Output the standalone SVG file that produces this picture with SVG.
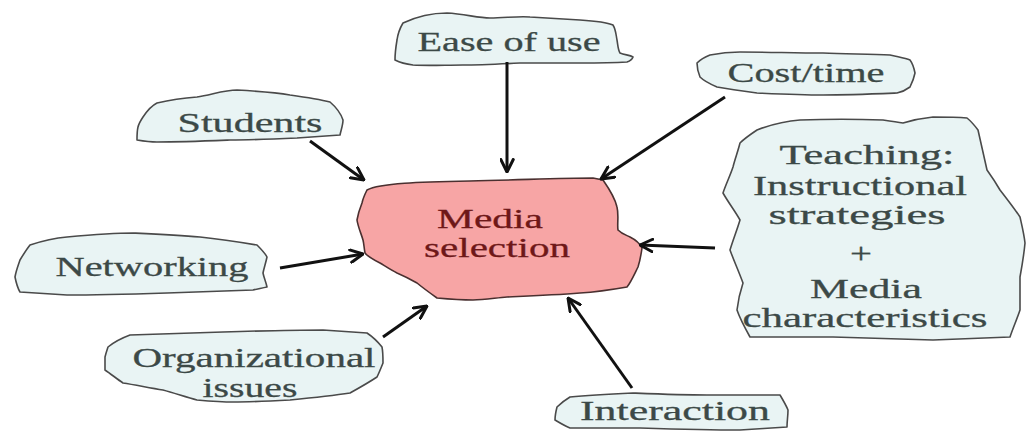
<svg xmlns="http://www.w3.org/2000/svg" width="1027" height="432" viewBox="0 0 1027 432">
  <style>
    .blob { fill: #e9f4f4; stroke: #4a4a4a; stroke-width: 1.6; stroke-linejoin: round; }
    .core { fill: #f7a5a5; stroke: #4a3030; stroke-width: 1.6; stroke-linejoin: round; }
    .lbl { font-family: "Liberation Serif", "Times New Roman", serif; font-size: 28px; fill: #3c4947; stroke: #3c4947; stroke-width: 0.3; text-anchor: middle; }
    .core-lbl { font-family: "Liberation Serif", "Times New Roman", serif; font-size: 28px; fill: #6e1818; stroke: #6e1818; stroke-width: 0.3; text-anchor: middle; }
    .link { stroke: #111; stroke-width: 3; fill: none; marker-end: url(#chev); }
  </style>
  <defs>
    <marker id="chev" viewBox="0 0 12 12" refX="11" refY="6" markerWidth="15" markerHeight="15" markerUnits="userSpaceOnUse" orient="auto">
      <path d="M1,1 L11,6 L1,11" fill="none" stroke="#111" stroke-width="2.4" stroke-linecap="round" stroke-linejoin="round"/>
    </marker>
  </defs>
  <rect width="1027" height="432" fill="#ffffff"/>

  <!-- central node -->
  <g id="media-selection">
    <path class="core" d="M367,190 C380,183 420,182 470,181 C520,180 560,178 593,178 L603,180 C610,190 615,198 617,207 C619,215 617,224 618,230 C622,234 626,235 630,237 C636,240 640,244 642,248 C641,255 640,261 638,267 C634,275 631,282 627,287 C610,290 596,292 580,293 C555,295 530,296 507,297 C495,298 484,300 473,300 C460,300 448,299 437,298 C430,293 423,288 417,283 C410,279 404,276 397,273 C391,270 385,266 380,263 C374,260 368,257 365,253 C364,248 364,244 363,240 C361,233 358,227 357,220 C358,214 360,208 362,203 C363,198 365,194 367,190 Z"/>
    <text class="core-lbl" x="490" y="228" textLength="106" lengthAdjust="spacingAndGlyphs">Media</text>
    <text class="core-lbl" x="497" y="257" textLength="146" lengthAdjust="spacingAndGlyphs">selection</text>
  </g>

  <g id="ease-of-use">
    <path class="blob" d="M403,23 C420,15 435,13 447,13 C465,14 478,18 490,18 C505,18 518,16 530,17 C548,18 565,19 580,20 C595,21 606,22 613,25 C616,30 616,35 617,40 C618,46 618,50 620,53 C625,55 630,55 633,57 C632,60 630,61 627,62 C610,63 595,63 580,63 C560,63 540,63 520,63 C500,64 480,65 463,65 C445,65 428,66 413,65 C405,64 399,62 395,60 C395,53 396,46 397,40 C398,33 400,28 403,23 Z"/>
    <text class="lbl" x="509" y="51" textLength="183" lengthAdjust="spacingAndGlyphs">Ease of use</text>
  </g>

  <g id="cost-time">
    <path class="blob" d="M697,63 C701,59 705,57 710,55 C720,53 730,52 740,52 C768,52 795,53 823,53 C846,54 870,54 890,55 C898,57 905,58 910,60 C913,64 914,68 915,73 C914,78 912,83 910,87 C906,90 902,92 897,93 C872,94 848,95 823,95 C801,95 779,94 757,93 C742,91 728,89 717,87 C710,84 704,81 700,77 C698,72 697,68 697,63 Z"/>
    <text class="lbl" x="806" y="82" textLength="157" lengthAdjust="spacingAndGlyphs">Cost/time</text>
  </g>

  <g id="students">
    <path class="blob" d="M143,117 C147,111 151,106 157,103 C170,100 184,98 197,97 C211,95 224,90 237,90 C255,91 273,92 290,95 C304,97 318,99 330,102 C337,108 341,114 343,120 C343,125 341,130 340,135 C326,136 312,137 297,138 C275,139 252,140 230,140 C205,141 181,142 157,142 C150,142 143,141 137,140 C137,135 137,131 138,127 C139,123 141,120 143,117 Z"/>
    <text class="lbl" x="250" y="132" textLength="145" lengthAdjust="spacingAndGlyphs">Students</text>
  </g>

  <g id="teaching">
    <path class="blob" d="M757,130 C770,125 785,121 800,120 C828,119 855,119 883,120 C890,121 897,122 903,123 C913,120 923,118 933,117 C945,117 956,117 967,118 C972,122 975,126 978,130 C981,143 984,157 987,170 C992,177 996,183 1000,190 C1007,199 1014,208 1020,217 C1022,226 1024,234 1025,243 C1024,254 1022,266 1020,277 C1020,288 1020,299 1020,310 C1017,319 1013,328 1010,337 C984,338 959,339 933,340 C900,339 866,338 833,337 C805,337 778,337 750,337 C745,328 740,319 737,310 C738,301 740,292 743,283 C739,272 734,261 730,250 C733,240 737,230 740,220 C735,211 728,202 723,193 C726,184 730,176 733,167 C735,159 738,151 740,143 C745,138 751,134 757,130 Z"/>
    <text class="lbl" x="867" y="164" textLength="175" lengthAdjust="spacingAndGlyphs">Teaching:</text>
    <text class="lbl" x="860" y="195" textLength="214" lengthAdjust="spacingAndGlyphs">Instructional</text>
    <text class="lbl" x="857" y="224" textLength="177" lengthAdjust="spacingAndGlyphs">strategies</text>
    <text class="lbl" x="861" y="263" style="font-size:30px" textLength="22" lengthAdjust="spacingAndGlyphs">+</text>
    <text class="lbl" x="866" y="298" textLength="112" lengthAdjust="spacingAndGlyphs">Media</text>
    <text class="lbl" x="865" y="327" textLength="245" lengthAdjust="spacingAndGlyphs">characteristics</text>
  </g>

  <g id="networking">
    <path class="blob" d="M30,245 C42,241 55,238 67,237 C89,235 111,233 133,233 C155,234 178,235 200,237 C219,239 239,242 257,245 C261,249 265,253 267,257 C266,262 264,268 263,273 C264,278 266,282 267,287 C262,288 258,289 253,290 C224,291 196,292 167,293 C134,294 100,295 67,295 C51,294 35,293 20,292 C17,287 16,282 15,277 C16,271 18,266 20,260 C23,255 26,250 30,245 Z"/>
    <text class="lbl" x="152" y="276" textLength="193" lengthAdjust="spacingAndGlyphs">Networking</text>
  </g>

  <g id="organizational-issues">
    <path class="blob" d="M108,347 C114,342 122,338 130,335 C161,334 192,333 223,332 C256,331 290,330 323,330 C338,331 352,332 367,333 C373,337 378,342 382,347 C383,352 383,358 383,363 C381,368 379,373 377,377 C368,383 359,388 350,393 C330,396 310,398 290,400 C271,401 252,402 233,402 C221,402 209,401 197,400 C186,397 174,393 163,390 C150,388 136,385 123,383 C117,379 111,374 105,370 C105,366 105,361 105,357 C106,353 107,350 108,347 Z"/>
    <text class="lbl" x="254" y="367" textLength="243" lengthAdjust="spacingAndGlyphs">Organizational</text>
    <text class="lbl" x="250" y="397" textLength="95" lengthAdjust="spacingAndGlyphs">issues</text>
  </g>

  <g id="interaction">
    <path class="blob" d="M557,407 C561,403 565,400 570,397 C591,395 612,394 633,393 C658,394 682,395 707,395 C731,395 756,395 780,395 C783,400 786,405 788,410 C788,416 787,421 787,427 C771,428 756,429 740,430 C707,430 673,429 640,428 C617,428 593,428 570,428 C565,426 560,423 555,420 C555,415 556,411 557,407 Z"/>
    <text class="lbl" x="675" y="420" textLength="190" lengthAdjust="spacingAndGlyphs">Interaction</text>
  </g>

  <!-- influences pointing into the central node -->
  <g id="connectors">
    <line class="link" x1="507" y1="62" x2="507" y2="172"/>
    <line class="link" x1="725" y1="97" x2="601" y2="179"/>
    <line class="link" x1="310" y1="141" x2="364" y2="180"/>
    <line class="link" x1="280" y1="268" x2="363" y2="254"/>
    <line class="link" x1="715" y1="248" x2="640" y2="245"/>
    <line class="link" x1="383" y1="337" x2="427" y2="306"/>
    <line class="link" x1="632" y1="388" x2="568" y2="298"/>
  </g>
</svg>
